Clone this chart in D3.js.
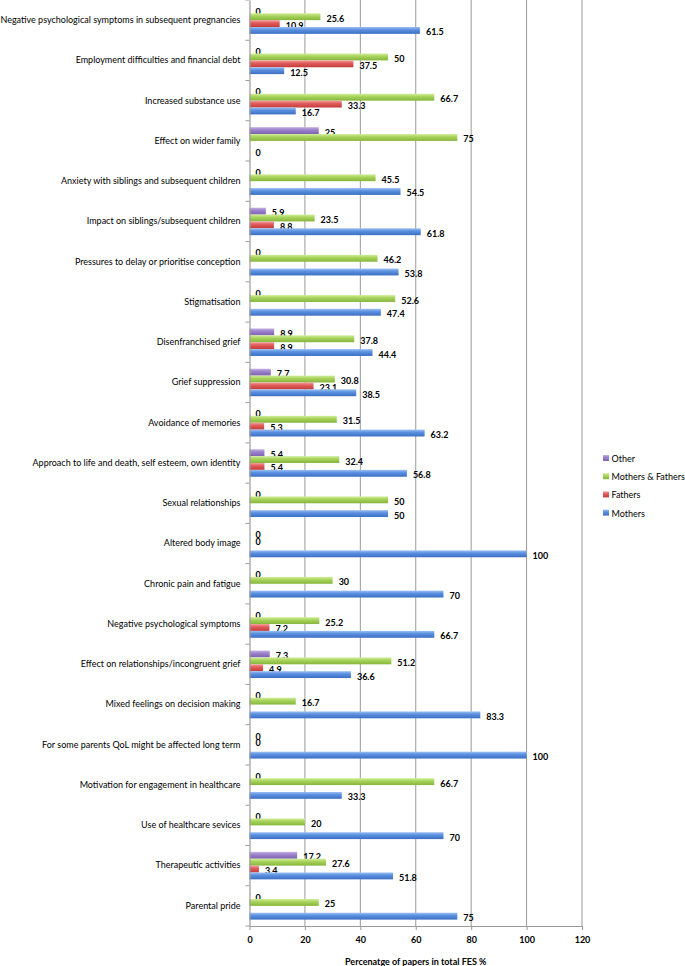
<!DOCTYPE html>
<html>
<head>
<meta charset="utf-8">
<script src="https://cdn.jsdelivr.net/npm/d3@7"></script>
<style>
  html, body { margin: 0; padding: 0; background: #fff; }
  svg { display: block; }
  text { font-family: Lato, "Open Sans", sans-serif; fill: #000; }
</style>
</head>
<body>
<svg id="chart" width="685" height="966"></svg>
<script>
const categories = [
  "Negative psychological symptoms in subsequent pregnancies",
  "Employment difficulties and financial debt",
  "Increased substance use",
  "Effect on wider family",
  "Anxiety with siblings and subsequent children",
  "Impact on siblings/subsequent children",
  "Pressures to delay or prioritise conception",
  "Stigmatisation",
  "Disenfranchised grief",
  "Grief suppression",
  "Avoidance of memories",
  "Approach to life and death, self esteem, own identity",
  "Sexual relationships",
  "Altered body image",
  "Chronic pain and fatigue",
  "Negative psychological symptoms",
  "Effect on relationships/incongruent grief",
  "Mixed feelings on decision making",
  "For some parents QoL might be affected long term",
  "Motivation for engagement in healthcare",
  "Use of healthcare sevices",
  "Therapeutic activities",
  "Parental pride"
];
const other          = [0, 0, 0, 25, 0, 5.9, 0, 0, 8.9, 7.7, 0, 5.4, 0, 0, 0, 0, 7.3, 0, 0, 0, 0, 17.2, 0];
const mothersFathers = [25.6, 50, 66.7, 75, 45.5, 23.5, 46.2, 52.6, 37.8, 30.8, 31.5, 32.4, 50, 0, 30, 25.2, 51.2, 16.7, 0, 66.7, 20, 27.6, 25];
const fathers        = [10.9, 37.5, 33.3, null, null, 8.8, null, null, 8.9, 23.1, 5.3, 5.4, null, null, null, 7.2, 4.9, null, null, null, null, 3.4, null];
const mothers        = [61.5, 12.5, 16.7, 0, 54.5, 61.8, 53.8, 47.4, 44.4, 38.5, 63.2, 56.8, 50, 100, 70, 66.7, 36.6, 83.3, 100, 33.3, 70, 51.8, 75];
const seriesNames = ["Other", "Mothers & Fathers", "Fathers", "Mothers"];
const xTicks = [0, 20, 40, 60, 80, 100, 120];
const xTitle = "Percenatge of papers in total FES %";

const seriesValues = [other, mothersFathers, fathers, mothers];
const colors = {
  "Other":             ["#c3b0e2", "#9c82cc", "#7d62b0"],
  "Mothers & Fathers": ["#d2ee9c", "#a8d45c", "#86b53c"],
  "Fathers":           ["#f3a0a0", "#e25c5c", "#c23c3c"],
  "Mothers":           ["#9cc0f2", "#5b90e0", "#3c6fc2"]
};

const svg = d3.select("#chart");
const margin = { left: 249.5, right: 103, top: 0, bottom: 40 };
const plotBottom = 926;

const x = d3.scaleLinear().domain([0, 120]).range([margin.left, 582]);
const y0 = d3.scaleBand().domain(categories).range([0, plotBottom]).padding(0);
const y1 = d3.scaleBand().domain(seriesNames).range([0, y0.bandwidth()]).paddingInner(0).paddingOuter(0.93);

// gradients
const defs = svg.append("defs");
seriesNames.forEach((s, i) => {
  const g = defs.append("linearGradient").attr("id", "g" + i)
    .attr("x1", 0).attr("y1", 0).attr("x2", 0).attr("y2", 1);
  const c = colors[s];
  g.append("stop").attr("offset", "0%").attr("stop-color", c[0]);
  g.append("stop").attr("offset", "40%").attr("stop-color", c[1]);
  g.append("stop").attr("offset", "100%").attr("stop-color", c[2]);
});

// gridlines
svg.append("g").selectAll("line").data(xTicks.filter(d => d > 0)).join("line")
  .attr("x1", d => x(d)).attr("x2", d => x(d))
  .attr("y1", 0).attr("y2", plotBottom)
  .attr("stroke", "#9a9a9a").attr("stroke-width", 1);

// bars
const groups = svg.append("g").selectAll("g").data(categories).join("g")
  .attr("transform", d => `translate(0,${y0(d)})`);

seriesNames.forEach((s, si) => {
  groups.each(function(cat, ci) {
    const v = seriesValues[si][ci];
    if (v === null || v === undefined) return;
    const g = d3.select(this);
    if (v > 0) {
      g.append("rect")
        .attr("x", x(0))
        .attr("y", y1(s))
        .attr("width", x(v) - x(0))
        .attr("height", y1.bandwidth())
        .attr("fill", `url(#g${si})`);
    }
    g.append("text")
      .attr("x", x(v) + 6)
      .attr("y", y1(s) + y1.bandwidth() / 2 + 1.5)
      .attr("dominant-baseline", "central")
      .attr("font-size", 9)
      .attr("font-weight", "bold")
      .text(v);
  });
});

// y axis
const yAxis = d3.axisLeft(y0).tickSize(0).tickPadding(9);
const yg = svg.append("g").attr("transform", `translate(${margin.left},0)`).call(yAxis);
yg.select(".domain").attr("stroke", "#9a9a9a").attr("stroke-width", 1.2);
yg.selectAll("text").attr("font-size", 9).style("font-family", "Lato, sans-serif");
// category boundary ticks
svg.append("g").selectAll("line").data(d3.range(categories.length + 1)).join("line")
  .attr("x1", margin.left - 4).attr("x2", margin.left)
  .attr("y1", i => i * y0.step()).attr("y2", i => i * y0.step())
  .attr("stroke", "#9a9a9a").attr("stroke-width", 1);

// x axis
const xAxis = d3.axisBottom(x).tickValues(xTicks).tickSize(4).tickPadding(7).tickSizeOuter(0);
const xg = svg.append("g").attr("transform", `translate(0,${plotBottom})`).call(xAxis);
xg.select(".domain").attr("stroke", "#9a9a9a").attr("stroke-width", 1.2);
xg.selectAll(".tick line").attr("stroke", "#9a9a9a");
xg.selectAll("text").attr("font-size", 9).attr("font-weight", "bold").style("font-family", "Lato, sans-serif");

svg.append("text")
  .attr("x", (x(0) + x(120)) / 2).attr("y", 961)
  .attr("text-anchor", "middle").attr("dominant-baseline", "central")
  .attr("font-size", 9).attr("font-weight", "bold")
  .text(xTitle);

// legend
const legend = svg.append("g").attr("transform", "translate(603,458)");
seriesNames.forEach((s, i) => {
  const g = legend.append("g").attr("transform", `translate(0,${i * 18.2})`);
  g.append("rect").attr("x", 0).attr("y", -3).attr("width", 6).attr("height", 6)
    .attr("fill", `url(#g${i})`);
  g.append("text").attr("x", 8.5).attr("y", 0.5).attr("dominant-baseline", "central")
    .attr("font-size", 9).text(s);
});
</script>
</body>
</html>
